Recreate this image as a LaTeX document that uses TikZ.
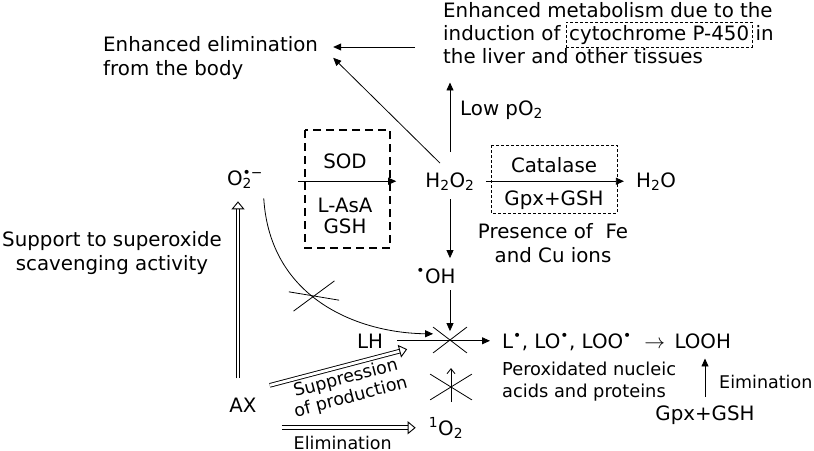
\documentclass[tikz,border=0pt]{standalone}
\usepackage{fontspec}
\setmainfont{DejaVu Sans}
\usetikzlibrary{arrows.meta, positioning, shapes.misc}

\tikzset{
    lbl/.style={inner sep=0pt, font=\fontsize{19.8}{23.5}\selectfont},
    midlbl/.style={inner sep=0pt, font=\fontsize{17.8}{22}\selectfont},
    smalllbl/.style={inner sep=0pt, font=\fontsize{17.5}{19.5}\selectfont},
    arr/.style={line width=0.8pt, -{Triangle[length=8pt, width=7pt]}},
    thinarr/.style={line width=0.8pt, -{Straight Barb[length=5pt, width=8pt]}},
    hollow/.style={double, double distance=2.8pt, line width=0.9pt,
        -{Triangle[open, length=8pt, width=13pt, line width=0.9pt]}},
    blocked/.style={cross out, draw, line width=0.8pt},
    sodbox/.style={line width=2pt, dash pattern=on 8pt off 5pt},
    thinbox/.style={line width=0.8pt, dash pattern=on 3pt off 2pt},
}

\begin{document}
\begin{tikzpicture}[x=1pt, y=-1pt]
        \useasboundingbox (0,0) rectangle (814,450);

        % top
        \node[lbl, anchor=base west, align=left] (elim) at (103,75) {Enhanced elimination\\from the body};
        \node[lbl, anchor=base west] (met1) at (443,17) {Enhanced metabolism due to the};
        \node[lbl, anchor=base west] (met2) at (443,40) {induction of};
        \node[lbl, draw, thinbox, inner sep=3pt, base right=5pt of met2] (cyp) {cytochrome P-450};
        \node[lbl, base right=3pt of cyp] (met2b) {in};
        \node[lbl, anchor=base west] (met3) at (443,63) {the liver and other tissues};
        \node[lbl, anchor=base west] (lowp) at (460,115) {Low pO\textsubscript{2}};

        % middle row
        \node[lbl, anchor=base] (o2) at (245,185) {O\rlap{\textsubscript{2}}\textsuperscript{\textbullet−}};
        \node[lbl, anchor=base] (sod) at (345,168) {SOD};
        \node[lbl, anchor=base] (lasa) at (345,212) {L-AsA};
        \node[lbl, anchor=base] (gsh) at (345,233) {GSH};
        \node[lbl, anchor=base] (h2o2) at (450,187) {H\textsubscript{2}O\textsubscript{2}};
        \node[lbl, anchor=base] (cat) at (554,172) {Catalase};
        \node[lbl, anchor=base] (gpx) at (554,205) {Gpx+GSH};
        \node[lbl, anchor=base] (h2o) at (656,187) {H\textsubscript{2}O};
        \node[lbl, anchor=base, align=center] (fecu) at (553,262) {Presence of\ \ Fe\\and Cu ions};
        \node[lbl, anchor=base] (oh) at (436,283) {\textsuperscript{\textbullet}OH};
        \node[lbl, anchor=base, align=center] (supp) at (112,270) {Support to superoxide\\scavenging activity};

        \draw[sodbox] (305,130) rectangle (390,248);
        \draw[thinbox] (491,145) rectangle (617,213);

        % bottom
        \node[lbl, anchor=base] (lh) at (370,348) {LH};
        \node[lbl, anchor=base west] (lrad) at (502,348) {L\textsuperscript{\textbullet}, LO\textsuperscript{\textbullet}, LOO\textsuperscript{\textbullet}\ \ $\rightarrow$};
        \node[lbl, base right=9pt of lrad] (looh) {LOOH};
        \node[midlbl, anchor=base west, align=left] (perox) at (502,397) {Peroxidated nucleic\\acids and proteins};
        \node[lbl, anchor=base] (gpx2) at (705,420) {Gpx+GSH};
        \node[smalllbl, anchor=base west] (eim) at (719,388) {Eimination};
        \node[lbl, anchor=base] (o1) at (446,435) {\textsuperscript{1}O\textsubscript{2}};
        \node[lbl, anchor=base] (ax) at (243,412) {AX};

        \node[blocked, minimum width=33pt, minimum height=25pt] (xmain) at (450,340) {};
        \node[blocked, minimum width=41pt, minimum height=25pt] (xlow) at (451,387) {};
        \node[blocked, minimum width=46pt, minimum height=19pt, rotate=13.5] (xcurve) at (314,296) {};

        % arrows
        \coordinate (metin) at (415,47);
        \draw[arr, shorten >=15pt] (metin) -- (metin -| elim.east);
        \draw[arr] ([shift={(-10,-9)}]h2o2.north) -- ([xshift=15pt]elim.east);
        \draw[arr, shorten <=20pt, shorten >=19pt] (h2o2.north) -- (h2o2.north |- met3.south);
        \draw[arr, shorten <=35pt, shorten >=29pt] (o2.east |- h2o2.west) -- (h2o2.west);
        \draw[arr, shorten <=11pt, shorten >=12pt] (h2o2.east) -- (h2o.west);
        \draw[arr, shorten <=9pt, shorten >=10pt] (h2o2.south) -- (h2o2.south |- oh.north);
        \draw[arr, shorten <=7pt, shorten >=-4pt] (xmain.north |- oh.south) -- (xmain.north);
        \draw[arr, shorten <=14pt, shorten >=12pt] (lh.east) -- (lh.east -| lrad.west);
        \draw[arr, shorten <=10pt] (o2.south east) .. controls (270,300) and (360,333) .. (xmain.160);
        \draw[thinarr, shorten <=15pt, shorten >=-6pt] (xlow.north |- o1.north) -- (xlow.north);
        \draw[arr, shorten <=8pt, shorten >=10pt] (gpx2.north) -- (gpx2.north |- looh.south);

        \draw[hollow, shorten <=19pt, shorten >=13pt] ([xshift=-5pt]ax.north) -- ([xshift=-5pt]ax.north |- o2.south);
        \draw[hollow] ([shift={(13,-12)}]ax.north east) -- ([shift={(24,1)}]lh.south east)
            node[smalllbl, sloped, below, pos=0.53, inner sep=4pt, align=center] {Suppression\\of production};
        \draw[hollow, shorten <=25pt, shorten >=13pt] (ax.east |- o1.west) -- (o1.west)
            node[smalllbl, below=8pt, pos=0.5] {Elimination};
    \end{tikzpicture}
\end{document}
